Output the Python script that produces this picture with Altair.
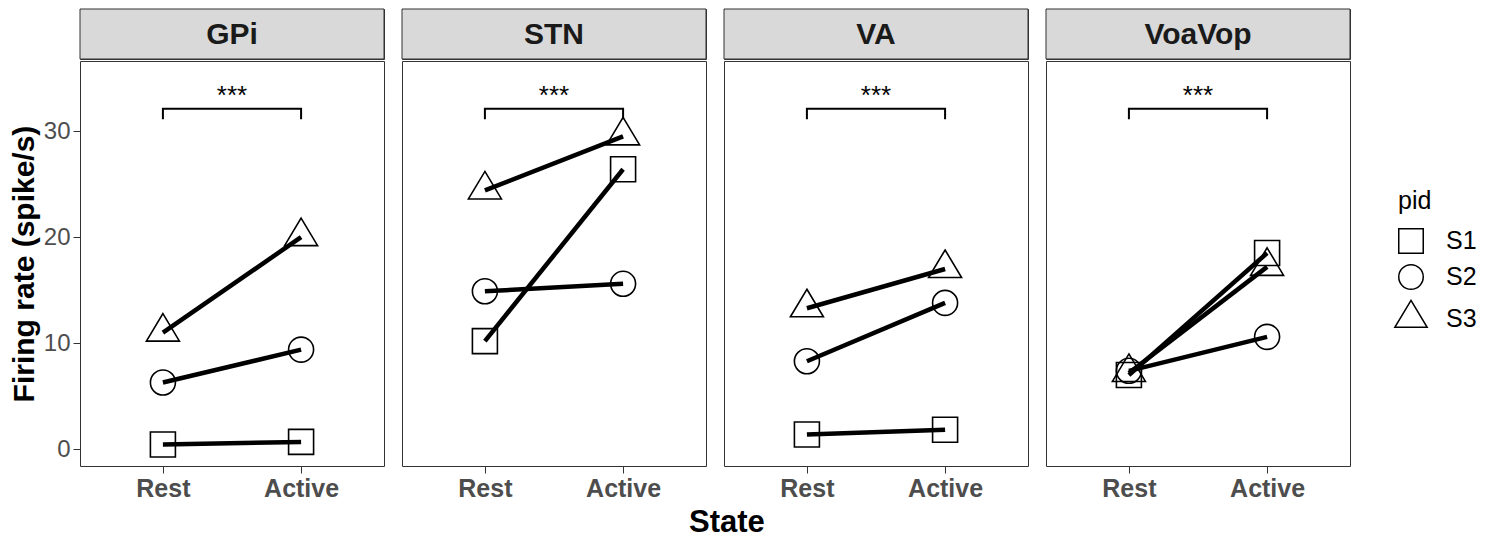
import altair as alt
import pandas as pd

regions = ["GPi", "STN", "VA", "VoaVop"]
pids = ["S1", "S2", "S3"]
states = ["Rest", "Active"]

gpi_rest = [0.45, 6.3, 11.0]
gpi_active = [0.7, 9.4, 20.0]
stn_rest = [10.2, 14.9, 24.4]
stn_active = [26.4, 15.6, 29.5]
va_rest = [1.4, 8.3, 13.3]
va_active = [1.85, 13.8, 17.0]
voavop_rest = [7.0, 7.4, 7.2]
voavop_active = [18.5, 10.6, 17.2]

sig_label = "***"
bracket_low = 31.1
bracket_high = 32.1
sig_y = 32.55

values = {
    "GPi": (gpi_rest, gpi_active),
    "STN": (stn_rest, stn_active),
    "VA": (va_rest, va_active),
    "VoaVop": (voavop_rest, voavop_active),
}

rows = []
for reg in regions:
    r, a = values[reg]
    for i, p in enumerate(pids):
        rows.append({"region": reg, "pid": p, "state": 1, "rate": r[i]})
        rows.append({"region": reg, "pid": p, "state": 2, "rate": a[i]})
df = pd.DataFrame(rows)

bracket_df = pd.DataFrame({
    "state": [1, 1, 2, 2],
    "rate": [bracket_low, bracket_high, bracket_high, bracket_low],
    "o": [0, 1, 2, 3],
})
stars_df = pd.DataFrame({"state": [1.5], "rate": [sig_y], "label": [sig_label]})

FONT = "Liberation Sans"
W = 304
PH = 405
SH = 50
TRI = "M0,-1.52L1.32,0.68L-1.32,0.68Z"

xscale = alt.Scale(domain=[0.4, 2.6], nice=False, zero=False)
yscale = alt.Scale(domain=[-1.57, 36.6], nice=False, zero=False)

xaxis = alt.Axis(values=[1, 2], labelExpr="datum.value == 1 ? 'Rest' : 'Active'",
                 title=None, grid=False, domain=False, tickColor="#333333", tickSize=7,
                 tickWidth=1, labelFont=FONT, labelFontSize=25, labelFontWeight="bold",
                 labelColor="#4d4d4d", labelPadding=3)


def yaxis(first):
    if not first:
        return None
    return alt.Axis(values=[0, 10, 20, 30], title="Firing rate (spike/s)", grid=False,
                    domain=False, tickColor="#333333", tickSize=7, tickWidth=1,
                    labelFont=FONT, labelFontSize=24, labelColor="#4d4d4d", labelPadding=3,
                    titleFont=FONT, titleFontSize=30, titleFontWeight="bold",
                    titleColor="black", titlePadding=4)


def panel(reg, first):
    d = df[df.region == reg]
    x = alt.X("state:Q", scale=xscale, axis=xaxis)
    y = alt.Y("rate:Q", scale=yscale, axis=yaxis(first))
    lines = alt.Chart(d).mark_line(color="black", strokeWidth=4.5, strokeCap="butt").encode(
        x=x, y=y, detail="pid:N")
    pts = alt.Chart(d).mark_point(filled=False, color="black", strokeWidth=1.6, size=625,
                                  opacity=1).encode(
        x=x, y=y,
        shape=alt.Shape("pid:N", scale=alt.Scale(domain=pids, range=["square", "circle", TRI]),
                        legend=alt.Legend(title="pid", orient="none", legendX=1318, legendY=180,
                                          titleFont=FONT, titleFontSize=25, titleFontWeight="normal",
                                          titleColor="black", labelFont=FONT, labelFontSize=25,
                                          labelColor="black", symbolSize=600, symbolStrokeWidth=1.5,
                                          symbolStrokeColor="black", symbolFillColor="transparent",
                                          rowPadding=4, titlePadding=14, labelOffset=22)))
    br = alt.Chart(bracket_df).mark_line(color="black", strokeWidth=2, strokeCap="butt").encode(
        x=x, y=y, order="o:Q")
    st = alt.Chart(stars_df).mark_text(font=FONT, fontSize=26, color="black",
                                       baseline="alphabetic").encode(x=x, y=y, text="label:N")
    return alt.layer(pts, lines, br, st).properties(width=W, height=PH)


def strip(reg):
    src = alt.Data(values=[{"r": reg}])
    rect = alt.Chart(src).mark_rect(fill="#d9d9d9", stroke="#333333", strokeWidth=1).encode(
        x=alt.value(0), x2=alt.value(W), y=alt.value(0), y2=alt.value(SH))
    txt = alt.Chart(src).mark_text(font=FONT, fontSize=30, fontWeight="bold", color="#1a1a1a",
                                   baseline="middle", align="center").encode(
        x=alt.value(W / 2), y=alt.value(SH / 2 + 1), text="r:N")
    return alt.layer(rect, txt).properties(width=W, height=SH)


cols = [alt.vconcat(strip(reg), panel(reg, i == 0), spacing=0) for i, reg in enumerate(regions)]

chart = alt.hconcat(*cols, spacing=16).resolve_scale(shape="shared").resolve_legend(
    shape="shared").properties(
    padding={"left": 0, "top": 0, "right": 0, "bottom": 0},
    title=alt.TitleParams("State", orient="bottom", anchor="middle", font=FONT, fontSize=31,
                          fontWeight="bold", color="black", offset=6, dx=-16),
).configure(background="white", view=alt.ViewConfig(stroke="#333333", strokeWidth=1))

chart.save("out.html", embed_options={"renderer": "svg", "actions": False})
